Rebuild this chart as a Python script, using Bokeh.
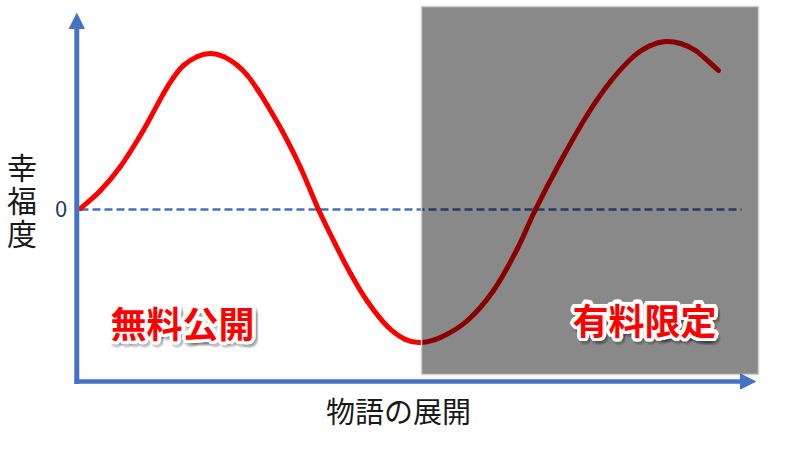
import numpy as np
from bokeh.plotting import figure
from bokeh.models import Range1d, Arrow, NormalHead, ColumnDataSource
from bokeh.core.properties import value
from bokeh.embed import file_html
from bokeh.resources import INLINE

# ---- data (x = story progress, y = happiness, 0 = baseline) ----
progress = [0, 20, 40, 58, 70, 83, 93, 103, 117, 130, 143, 157, 167, 177, 187, 202, 220,
            238, 255, 270, 287, 307, 325, 340, 360, 387, 413, 437, 455, 480, 507, 530,
            553, 570, 585, 600, 615, 628, 638]
happiness = [1, 19, 43, 71, 92, 116, 132, 144, 153, 156, 153, 144, 134, 120, 104, 78, 42,
             0, -35, -64, -92, -117, -130, -133, -128, -111, -81, -39, 0, 48, 95, 128,
             153, 164, 168, 166, 159, 148, 139]
paid_start = 341
paid_end = 678
baseline_end = 661

free_label = "無料公開"
paid_label = "有料限定"
y_title = ["幸", "福", "度"]
x_title = "物語の展開"
zero_label = "0"

BLUE = "#4472C4"
RED = "#FF0000"
JP = value("Noto Sans CJK JP")

p = figure(width=784, height=434, output_backend="svg", toolbar_location=None,
           x_range=Range1d(-80, 704), y_range=Range1d(-225, 209),
           x_axis_type=None, y_axis_type=None, min_border=0,
           background_fill_color="white", border_fill_color="white")
p.outline_line_color = None
p.grid.visible = False

# baseline (zero) dashed line
p.line([0, baseline_end], [0, 0], line_color=BLUE, line_width=2.5, line_dash="8 4")

# happiness curve, drawn as smooth cubic segments through the read points
px = np.array(progress, dtype=float)
py = np.array(happiness, dtype=float)
n = len(px)
x0, y0, x1, y1, cx0, cy0, cx1, cy1 = ([] for _ in range(8))
for i in range(n - 1):
    pa = (px[max(i - 1, 0)], py[max(i - 1, 0)])
    pb = (px[i], py[i])
    pc = (px[i + 1], py[i + 1])
    pd = (px[min(i + 2, n - 1)], py[min(i + 2, n - 1)])
    x0.append(pb[0]); y0.append(pb[1]); x1.append(pc[0]); y1.append(pc[1])
    cx0.append(pb[0] + (pc[0] - pa[0]) / 6); cy0.append(pb[1] + (pc[1] - pa[1]) / 6)
    cx1.append(pc[0] - (pd[0] - pb[0]) / 6); cy1.append(pc[1] - (pd[1] - pb[1]) / 6)
p.bezier(x0=x0, y0=y0, x1=x1, y1=y1, cx0=cx0, cy0=cy0, cx1=cx1, cy1=cy1,
         line_color=RED, line_width=5, line_cap="round")

# paid region overlay
p.quad(left=[paid_start], right=[paid_end], top=[203], bottom=[-165],
       fill_color="#000000", fill_alpha=0.463, line_color="#cfcfcf", line_width=1.5)

# axes arrows
p.add_layout(Arrow(end=NormalHead(size=15, fill_color=BLUE, line_color=BLUE, line_width=1),
                   x_start=-3.7, y_start=-174.5, x_end=-3.7, y_end=196,
                   line_color=BLUE, line_width=5))
p.add_layout(Arrow(end=NormalHead(size=15, fill_color=BLUE, line_color=BLUE, line_width=1),
                   x_start=-6, y_start=-172, x_end=675, y_end=-172,
                   line_color=BLUE, line_width=4.5))

# axis texts
p.text(x=[-19.5], y=[1], text=[zero_label], text_font=JP, text_font_size="22px",
       text_color="#1F3864", text_align="center", text_baseline="middle")
p.text(x=[-58.5] * 3, y=[44, 11, -22], text=y_title, text_font=JP, text_font_size="30px",
       text_color="#1a1a1a", text_align="center", text_baseline="middle")
p.text(x=[318], y=[-200], text=[x_title], text_font=JP, text_font_size="29px",
       text_color="#1a1a1a", text_align="center", text_baseline="middle")

# glowing labels
def glow_label(x, y, label):
    angles = np.linspace(0, 2 * np.pi, 24, endpoint=False)
    # soft shadow
    for r, a in [(5, 0.04), (4, 0.05)]:
        src = ColumnDataSource(dict(x=[x] * len(angles), y=[y] * len(angles),
                                    t=[label] * len(angles),
                                    dx=list(2 + r * np.cos(angles)),
                                    dy=list(3 + r * np.sin(angles))))
        p.text(x="x", y="y", text="t", x_offset="dx", y_offset="dy", source=src,
               text_font=JP, text_font_size="36px", text_font_style="bold",
               text_color="#000000", text_alpha=a, text_align="center", text_baseline="middle")
    # white outline
    for r in [3.5, 2]:
        src = ColumnDataSource(dict(x=[x] * len(angles), y=[y] * len(angles),
                                    t=[label] * len(angles),
                                    dx=list(r * np.cos(angles)), dy=list(r * np.sin(angles))))
        p.text(x="x", y="y", text="t", x_offset="dx", y_offset="dy", source=src,
               text_font=JP, text_font_size="36px", text_font_style="bold",
               text_color="white", text_align="center", text_baseline="middle")
    p.text(x=[x], y=[y], text=[label], text_font=JP, text_font_size="36px",
           text_font_style="bold", text_color=RED, text_align="center", text_baseline="middle")

glow_label(102, -112, free_label)
glow_label(564, -109, paid_label)

open("out.html", "w").write(file_html(p, INLINE))
